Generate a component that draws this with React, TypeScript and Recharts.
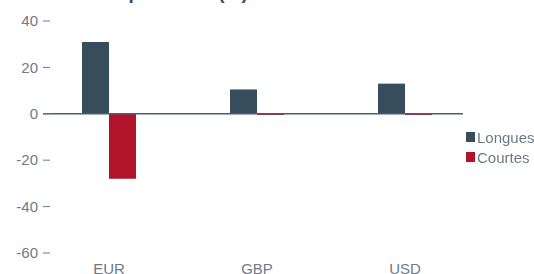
import { BarChart, Bar, XAxis, YAxis, ReferenceLine } from "recharts"

const currencies = ["EUR", "GBP", "USD"]
const longues = [31, 10.5, 13]
const courtes = [-28, -0.5, -0.5]
const yTicks = [-60, -40, -20, 0, 20, 40]

const seriesNames = { longues: "Longues", courtes: "Courtes" }
const colors = { longues: "#374d5b", courtes: "#b0132a" }
const textColor = "#6e7b85"
const font = "'Liberation Sans', Arial, sans-serif"

const data = currencies.map((c, i) => ({
  name: c,
  longues: longues[i],
  courtes: courtes[i],
}))

function YTick({ x, y, payload }: any) {
  return (
    <g>
      <line x1={x} x2={x + 7} y1={y} y2={y} stroke={textColor} strokeWidth={1} />
      <text x={x - 5} y={y} dy="0.35em" textAnchor="end" fill={textColor} fontSize={15} fontFamily={font}>
        {payload.value}
      </text>
    </g>
  )
}

function LegendBox() {
  const items = [
    { key: "longues", label: seriesNames.longues },
    { key: "courtes", label: seriesNames.courtes },
  ]
  return (
    <div
      style={{
        position: "absolute",
        left: 466,
        top: 127,
        fontFamily: font,
        fontSize: 15,
        color: textColor,
      }}
    >
      {items.map((it) => (
        <div key={it.key} style={{ display: "flex", alignItems: "center", height: 20 }}>
          <span
            style={{
              display: "inline-block",
              width: 9,
              height: 10,
              background: colors[it.key as "longues" | "courtes"],
              marginRight: 2,
            }}
          />
          <span>{it.label}</span>
        </div>
      ))}
    </div>
  )
}

export default function App() {
  return (
    <div style={{ position: "fixed", top: 0, left: 0, width: 534, height: 274, background: "#fff" }}>
      <svg width={534} height={274} style={{ position: "absolute", top: 0, left: 0, pointerEvents: "none" }}>
        <text x={24} y={-1} fill="#374d5b" fontSize={19} fontWeight="bold" fontFamily={font}>
          Devises en positions (%)
        </text>
      </svg>
      <BarChart
        width={534}
        height={274}
        data={data}
        margin={{ top: 21, right: 71, bottom: 0, left: 0 }}
        barGap={0}
        barCategoryGap={47}
      >
        <XAxis
          dataKey="name"
          axisLine={false}
          tickLine={false}
          tickSize={0}
          tickMargin={10}
          height={21}
          padding={{ left: -8, right: -16 }}
          tick={{ fill: textColor, fontSize: 15, fontFamily: font }}
          interval={0}
        />
        <YAxis
          width={43}
          domain={[-60, 40]}
          ticks={yTicks}
          axisLine={false}
          tickLine={false}
          tickSize={0}
          tickMargin={0}
          tick={<YTick />}
          interval={0}
        />
        <ReferenceLine y={0} stroke="#4a5f6c" strokeWidth={1.5} />
        <Bar dataKey="longues" name={seriesNames.longues} fill={colors.longues} isAnimationActive={false} />
        <Bar dataKey="courtes" name={seriesNames.courtes} fill={colors.courtes} isAnimationActive={false} />
      </BarChart>
      <LegendBox />
    </div>
  )
}
